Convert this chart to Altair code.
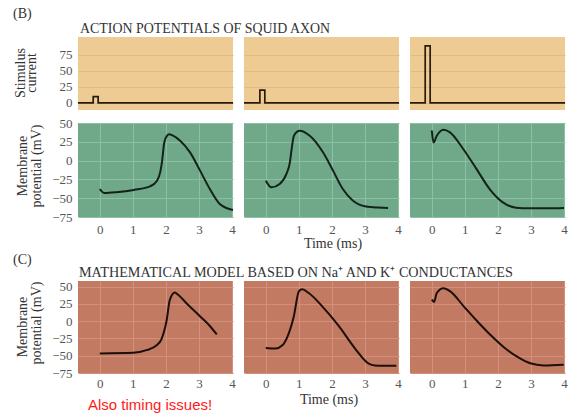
import altair as alt
import pandas as pd

# ---------------- data ----------------
time_ticks = [0, 1, 2, 3, 4]
stim_ticks = [0, 25, 50, 75]
vm_ticks = [-75, -50, -25, 0, 25, 50]

# stimulus current (step traces)
stim_t1 = [-0.66, -0.20, -0.05, 4.03]
stim_i1 = [0, 10, 0, 0]
stim_t2 = [-0.66, -0.18, -0.03, 4.03]
stim_i2 = [0, 20, 0, 0]
stim_t3 = [-0.66, -0.20, -0.05, 4.03]
stim_i3 = [0, 89, 0, 0]

# recorded membrane potential (B)
b1_t = [0, 0.13, 0.5, 1.03, 1.53, 1.73, 1.83, 1.88, 1.95, 2.03, 2.1, 2.2, 2.43, 2.73, 3.03, 3.33, 3.63, 3.83, 4.03]
b1_v = [-37.8, -43, -42, -39, -34, -26.7, -15, -2, 24, 33, 35, 33.5, 26.5, 11, -13, -37.8, -57.7, -63, -65.6]
b2_t = [0, 0.17, 0.42, 0.62, 0.73, 0.78, 0.85, 0.95, 1.03, 1.33, 1.73, 2.03, 2.33, 2.63, 3.03, 3.4, 3.7]
b2_v = [-26.7, -35.5, -31, -18, -2, 15, 33, 38.5, 39.8, 33, 11, -13, -37.8, -53, -61, -62.5, -63]
b3_t = [0, 0.05, 0.15, 0.35, 0.55, 0.95, 1.35, 1.75, 2.15, 2.55, 2.95, 3.5, 4.0]
b3_v = [40, 24, 33, 41, 37.6, 15.4, -11, -37.8, -55.5, -62.6, -63.5, -63.5, -63]

# mathematical model (C)
c1_t = [0, 1.01, 1.41, 1.72, 1.87, 2.02, 2.12, 2.27, 2.37, 2.63, 3.03, 3.33, 3.54]
c1_v = [-46.7, -45.8, -42, -35, -25.5, 0.5, 31, 41.5, 38, 25.5, 7, -7, -19.3]
c2_t = [0, 0.3, 0.5, 0.65, 0.85, 1.0, 1.1, 1.3, 1.7, 2.2, 2.7, 3.1, 3.3, 3.95]
c2_v = [-38.7, -39.6, -35, -23, 7.5, 43, 46, 40.6, 21.7, -6.6, -39.6, -61, -64, -64.6]
c3_t = [0, 0.07, 0.15, 0.35, 0.56, 0.96, 1.36, 1.77, 2.17, 2.58, 2.98, 3.38, 3.99]
c3_v = [31, 27.8, 40.6, 47.6, 43, 21.7, 0.5, -19.8, -37.3, -51.4, -61, -64, -63]

# texts
label_b = "(B)"
label_c = "(C)"
title_b = "ACTION POTENTIALS OF SQUID AXON"
title_c = "MATHEMATICAL MODEL BASED ON Na\u207a AND K\u207a CONDUCTANCES"
stim_title = ["Stimulus", "current"]
vm_title = ["Membrane", "potential (mV)"]
time_title = "Time (ms)"
note = "Also timing issues!"

# ---------------- style ----------------
FONT = "Liberation Serif"
X_DOM = [-0.66, 4.03]
TAN, TAN_GRID = "#EECB93", "#E0BC85"
GREEN, GREEN_GRID = "#70A88A", "#8DBFA3"
SALMON, SALMON_GRID = "#C27A63", "#D3917B"
W = 155


def txt(s, x, y, size=14, color="#333333", font=FONT, angle=0, align="left"):
    kw = dict(font=font, fontSize=size, color=color, align=align, baseline="alphabetic")
    if angle:
        kw["angle"] = angle
    return alt.Chart(pd.DataFrame({"s": [s]})).mark_text(**kw).encode(
        x=alt.value(x), y=alt.value(y), text="s:N"
    )


def panel(t, v, ydom, yvals, fill, gridc, linec, height, left, xlabels, xpad,
          interp="monotone", xgrid=True, sw=2.0, extras=()):
    df = pd.DataFrame({"t": t, "v": v})
    base = alt.Chart(df).mark_line(color=linec, strokeWidth=sw, interpolate=interp).encode(
        x=alt.X("t:Q",
                scale=alt.Scale(domain=X_DOM, nice=False, zero=False),
                axis=alt.Axis(values=time_ticks, labels=xlabels, grid=xgrid, gridColor=gridc,
                              gridWidth=1, ticks=False, domain=False, title=None,
                              labelPadding=xpad, labelFontSize=13, labelFont=FONT,
                              labelColor="#555555", labelFlush=False, labelOverlap=False)),
        y=alt.Y("v:Q",
                scale=alt.Scale(domain=ydom, nice=False, zero=False),
                axis=alt.Axis(values=yvals, labels=left, grid=True, gridColor=gridc,
                              gridWidth=1, ticks=False, domain=False, title=None,
                              labelPadding=6, labelFontSize=13, labelFont=FONT,
                              labelColor="#555555", labelFlush=False, labelOverlap=False)),
    )
    ch = alt.layer(base, *extras) if extras else base
    return ch.properties(width=W, height=height, view=alt.ViewBackground(fill=fill))


STIM_DOM = [-11, 103]
VM_DOM_B = [-75, 50]
VM_DOM_C = [-75, 58]

row1_extras = [
    txt(label_b, -65, -19, size=14),
    txt(title_b, 2, -4, size=13.9),
    txt(stim_title[0], -53, 36, angle=270, align="center"),
    txt(stim_title[1], -42, 36, angle=270, align="center"),
]
r1 = [
    panel(stim_t1, stim_i1, STIM_DOM, stim_ticks, TAN, TAN_GRID, "#2b1b0e", 73, True, False, 6,
          interp="step-after", xgrid=False, sw=1.7, extras=row1_extras),
    panel(stim_t2, stim_i2, STIM_DOM, stim_ticks, TAN, TAN_GRID, "#2b1b0e", 73, False, False, 6,
          interp="step-after", xgrid=False, sw=1.7),
    panel(stim_t3, stim_i3, STIM_DOM, stim_ticks, TAN, TAN_GRID, "#2b1b0e", 73, False, False, 6,
          interp="step-after", xgrid=False, sw=1.7),
]

row2_left = [
    txt(vm_title[0], -51, 43, angle=270, align="center"),
    txt(vm_title[1], -37, 43, angle=270, align="center"),
]
row2_mid = [txt(time_title, 89, 125, align="center")]
r2 = [
    panel(b1_t, b1_v, VM_DOM_B, vm_ticks, GREEN, GREEN_GRID, "#13231b", 94, True, True, 6, extras=row2_left),
    panel(b2_t, b2_v, VM_DOM_B, vm_ticks, GREEN, GREEN_GRID, "#13231b", 94, False, True, 6, extras=row2_mid),
    panel(b3_t, b3_v, VM_DOM_B, vm_ticks, GREEN, GREEN_GRID, "#13231b", 94, False, True, 6),
]


def spacer():
    return alt.Chart(pd.DataFrame({"s": [""]})).mark_text().encode(
        text="s:N", x=alt.value(0), y=alt.value(0)
    ).properties(width=W, height=38)


sp = [spacer(), spacer(), spacer()]

row3_left = [
    txt(label_c, -65, -17, size=14),
    txt(title_c, 1, -4, size=14.2),
    txt(vm_title[0], -51, 46, angle=270, align="center"),
    txt(vm_title[1], -37, 42, angle=270, align="center"),
    txt(note, 10, 129, size=15, color="#FF1a1a", font="Liberation Sans"),
]
row3_mid = [txt(time_title, 85, 123, align="center")]
r3 = [
    panel(c1_t, c1_v, VM_DOM_C, vm_ticks, SALMON, SALMON_GRID, "#1e0f0a", 92, True, True, 4, extras=row3_left),
    panel(c2_t, c2_v, VM_DOM_C, vm_ticks, SALMON, SALMON_GRID, "#1e0f0a", 92, False, True, 4, extras=row3_mid),
    panel(c3_t, c3_v, VM_DOM_C, vm_ticks, SALMON, SALMON_GRID, "#1e0f0a", 92, False, True, 4),
]

chart = alt.concat(
    *(r1 + r2 + sp + r3),
    columns=3,
    spacing={"row": 13, "column": 11},
    bounds="flush",
).properties(
    padding={"left": 13, "top": 7, "right": 5, "bottom": 2},
    background="white",
).configure_view(strokeWidth=0)

chart.save("out.html", embed_options={"renderer": "svg", "actions": False})
